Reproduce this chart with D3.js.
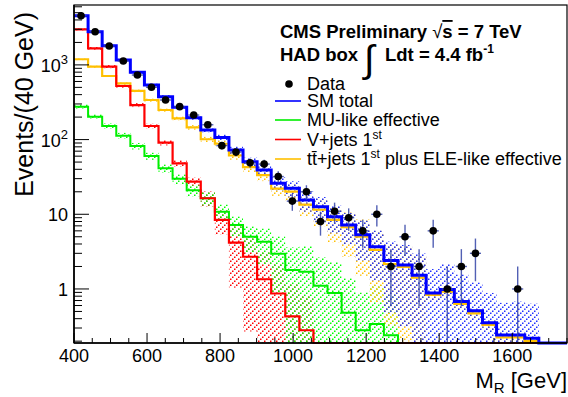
<!DOCTYPE html>
<html><head><meta charset="utf-8">
<script src="https://cdn.jsdelivr.net/npm/d3@7"></script>
<style>
body{margin:0;background:#fff}
text{font-family:"Liberation Sans",Arial,Helvetica,sans-serif;fill:#000}
</style>
</head><body>
<svg id="c" width="568" height="397"></svg>
<script>
// ---- data ----
const mrRange = [400, 1750];          // x axis range, GeV
const nBins = 35;                      // histogram bins over that range
const xMajorTicks = [400, 600, 800, 1000, 1200, 1400, 1600];
const yLabelTicks = [1, 10, 100, 1000];
const yLabelText = ["1", "10", "10^2", "10^3"];

const dataCounts = [4560,2780,1790,1128,732,502,339,276,213,158,83,68,49,47,32,15,20,8,11,9,6,10,2,5,2,6,1,2,3,0,0,1,0,0,0];
const smTotal   = [4560,2780,1807,1164,796,538,375,271,196,134,107,72.6,50.6,39.2,26,22.3,15.5,12.6,9.3,7.2,5.3,3.68,2.4,2.1,1.53,0.88,0.98,0.68,0.51,0.354,0.242,0.242,0.219,0,0];
const muLike    = [276,203,152,113,82,60.3,41.3,29.8,20.9,16.4,10.8,7.2,5.0,4.3,2.97,1.8,1.7,1.1,0.88,0.48,0.28,0.34,0.24,0,0,0,0,0,0,0,0,0,0,0,0];
const vJets     = [2995,1668,946,522,290,152,90.9,48.1,27.3,16.4,8.4,4.17,2.7,1.35,0.87,0.43,0.28,0,0,0,0,0,0,0,0,0,0,0,0,0,0,0,0,0,0];
const ttJets    = [1190,946,710,567,448,339,249,192,146,101,88,61.2,42.9,33.5,22.1,20.1,13.5,11.5,8.4,6.7,5.0,3.34,2.16,1.98,1.42,0.83,0.92,0.63,0.47,0.33,0.225,0.225,0.2,0,0];

// fractional uncertainty bands (hatched)
const smErr  = [0.03,0.03,0.03,0.03,0.04,0.04,0.05,0.05,0.06,0.07,0.09,0.11,0.13,0.16,0.2,0.24,0.3,0.35,0.4,0.45,0.55,0.65,0.8,0.85,0.95,1.1,1.2,1.3,1.4,1.5,1.7,1.8,1.9,0,0];
const muErr  = [0.07,0.07,0.08,0.09,0.1,0.11,0.13,0.15,0.17,0.2,0.25,0.3,0.38,0.5,0.7,1.0,1.2,1.4,1.6,1.9,2.2,2.3,2.5,0,0,0,0,0,0,0,0,0,0,0,0];
const vErr   = [0.04,0.04,0.05,0.05,0.06,0.07,0.08,0.1,0.13,0.23,0.36,0.75,0.9,1.3,1.5,1.7,1.9,0,0,0,0,0,0,0,0,0,0,0,0,0,0,0,0,0,0];
const ttErr  = [0.03,0.03,0.03,0.04,0.04,0.05,0.05,0.06,0.07,0.08,0.1,0.12,0.14,0.17,0.2,0.25,0.3,0.4,0.5,0.6,0.7,0.8,0.85,0.9,0.95,0.15,0.15,0.15,0.15,0.15,0.15,0.15,0.15,0,0];

// ---- layout ----
const svg = d3.select("#c");
const L = 74, R = 567, T = 5, B = 343;
const x = d3.scaleLinear().domain(mrRange).range([L, R]);
const bin = d3.scaleLinear().domain([0, nBins]).range([L, R]);   // bin index -> px
const yMin = 0.189, yMax = 6340;
const y = d3.scaleLog().domain([yMin, yMax]).range([B, T]);
const yc = v => y(Math.max(v, yMin));

// hatch patterns: dotted "/" diagonals
const defs = svg.append("defs");
function hatch(id, col) {
  const p = defs.append("pattern").attr("id", id).attr("patternUnits", "userSpaceOnUse")
    .attr("width", 6).attr("height", 6);
  p.append("g").attr("fill", col).selectAll("rect").data([[0,4.5],[2,2.5],[4,0.5]]).join("rect")
    .attr("x", d => d[0]).attr("y", d => d[1]).attr("width", 1.5).attr("height", 1.5);
}
hatch("hBlue", "#2030ff");
hatch("hGreen", "#00ff00");
hatch("hRed", "#ff0000");
hatch("hYellow", "#ffc000");

const idx = d3.range(nBins);
function band(vals, errs, pat) {
  svg.append("g").selectAll("rect")
    .data(idx.filter(i => vals[i] > 0)).join("rect")
    .attr("x", i => bin(i)).attr("width", i => bin(i + 1) - bin(i))
    .attr("y", i => yc(vals[i] * (1 + errs[i])))
    .attr("height", i => yc(vals[i] * (1 - errs[i])) - yc(vals[i] * (1 + errs[i])))
    .attr("fill", `url(#${pat})`);
}
band(vJets, vErr, "hRed");
band(muLike, muErr, "hGreen");
band(ttJets, ttErr, "hYellow");
band(smTotal, smErr, "hBlue");

function stepLine(vals, col, w) {
  const pts = [];
  idx.forEach(i => { pts.push([bin(i), yc(vals[i])]); pts.push([bin(i + 1), yc(vals[i])]); });
  svg.append("path").attr("d", d3.line()(pts)).attr("fill", "none")
    .attr("stroke", col).attr("stroke-width", w).attr("stroke-linejoin", "miter");
}
stepLine(muLike, "#00ee00", 2);
stepLine(ttJets, "#ffc000", 2.2);
stepLine(vJets, "#ff0000", 2.2);
stepLine(smTotal, "#0000ff", 3);

// data points with errors
const dIdx = idx.filter(i => dataCounts[i] > 0);
const dg = svg.append("g");
const errCol = "#3545a8";
dg.selectAll(".ev").data(dIdx).join("line")
  .attr("x1", i => (bin(i) + bin(i + 1)) / 2).attr("x2", i => (bin(i) + bin(i + 1)) / 2)
  .attr("y1", i => yc(dataCounts[i] + Math.sqrt(dataCounts[i])))
  .attr("y2", i => yc(dataCounts[i] - Math.sqrt(dataCounts[i])))
  .attr("stroke", errCol).attr("stroke-width", 1.4).attr("opacity", 0.85);
dg.selectAll(".eh").data(dIdx).join("line")
  .attr("x1", i => bin(i) + 1.5).attr("x2", i => bin(i + 1) - 1.5)
  .attr("y1", i => yc(dataCounts[i])).attr("y2", i => yc(dataCounts[i]))
  .attr("stroke", errCol).attr("stroke-width", 1.4).attr("opacity", 0.85);
dg.selectAll("circle").data(dIdx).join("circle")
  .attr("cx", i => (bin(i) + bin(i + 1)) / 2).attr("cy", i => yc(dataCounts[i]))
  .attr("r", 3.8).attr("fill", "#000");

// frame
svg.append("rect").attr("x", L).attr("y", T).attr("width", R - L).attr("height", B - T)
  .attr("fill", "none").attr("stroke", "#000").attr("stroke-width", 1.2);
svg.append("line").attr("x1", L).attr("x2", R).attr("y1", B).attr("y2", B).attr("stroke", "#000").attr("stroke-width", 1.6);
svg.append("line").attr("x1", L).attr("x2", L).attr("y1", T).attr("y2", B).attr("stroke", "#000").attr("stroke-width", 1.6);

// x ticks
const xMinor = d3.range(mrRange[0], mrRange[1] + 1, 50);
svg.append("g").selectAll("line").data(xMinor).join("line")
  .attr("x1", d => x(d)).attr("x2", d => x(d)).attr("y1", B)
  .attr("y2", d => B - (xMajorTicks.includes(d) ? 10 : 5)).attr("stroke", "#000").attr("stroke-width", 1);
svg.append("g").selectAll("text").data(xMajorTicks).join("text")
  .attr("x", d => x(d)).attr("y", 362).attr("text-anchor", "middle")
  .attr("font-size", 18).text(d => d);

// y ticks
const yMinorT = y.ticks().filter(v => v >= yMin && v <= yMax);
svg.append("g").selectAll("line").data(yMinorT).join("line")
  .attr("y1", d => y(d)).attr("y2", d => y(d)).attr("x1", L)
  .attr("x2", d => L + (yLabelTicks.includes(d) ? 15 : 8)).attr("stroke", "#000").attr("stroke-width", 1);
const yl = svg.append("g").selectAll("text").data(yLabelTicks).join("text")
  .attr("x", 68).attr("y", d => y(d) + 7).attr("text-anchor", "end").attr("font-size", 18);
yl.each(function(d, i) {
  const s = yLabelText[i].split("^");
  const t = d3.select(this);
  t.append("tspan").text(s[0]);
  if (s[1]) t.append("tspan").attr("dy", -8).attr("font-size", 13).text(s[1]);
});

// axis titles
const xt = svg.append("text").attr("x", R).attr("y", 388).attr("text-anchor", "end").attr("font-size", 22);
xt.append("tspan").text("M");
xt.append("tspan").attr("dy", 5).attr("font-size", 15).text("R");
xt.append("tspan").attr("dy", -5).text(" [GeV]");
svg.append("text").attr("transform", "translate(33,12) rotate(-90)").attr("text-anchor", "end")
  .attr("font-size", 25).text("Events/(40 GeV)");

// header text
const h1 = svg.append("text").attr("x", 280).attr("y", 38).attr("font-size", 18.5).attr("font-weight", "bold");
h1.append("tspan").text("CMS Preliminary ");
h1.append("tspan").attr("font-weight", "normal").text("\u221A");
h1.append("tspan").attr("style", "text-decoration:overline").text("s");
h1.append("tspan").text(" = 7 TeV");
svg.append("text").attr("x", 280).attr("y", 61).attr("font-size", 18.5).attr("font-weight", "bold").text("HAD box");
svg.append("text").attr("x", 364).attr("y", 72).attr("font-size", 38).attr("font-family", "DejaVu Sans").text("\u222B");
const h2 = svg.append("text").attr("x", 385).attr("y", 61).attr("font-size", 18.5).attr("font-weight", "bold");
h2.append("tspan").text("Ldt = 4.4 fb");
h2.append("tspan").attr("dy", -8).attr("font-size", 12).text("-1");

// legend
const lg = svg.append("g");
lg.append("circle").attr("cx", 289).attr("cy", 84).attr("r", 3.8).attr("fill", "#000");
lg.append("text").attr("x", 307).attr("y", 90).attr("font-size", 18).text("Data");
const legRows = [
  {c: "#0000ff", y: 101, t: [["SM total"]]},
  {c: "#00ee00", y: 120, t: [["MU-like effective"]]},
  {c: "#ff0000", y: 139.5, t: [["V+jets 1"], ["st", 1]]},
  {c: "#ffc000", y: 159, t: [["tt\u0304+jets 1"], ["st", 1], [" plus ELE-like effective"]]}
];
legRows.forEach(r => {
  lg.append("line").attr("x1", 275).attr("x2", 301).attr("y1", r.y).attr("y2", r.y)
    .attr("stroke", r.c).attr("stroke-width", 1.6);
  const t = lg.append("text").attr("x", 307).attr("y", r.y + 6).attr("font-size", 18);
  let up = false;
  r.t.forEach(p => {
    const ts = t.append("tspan").text(p[0]);
    if (p[1]) { ts.attr("dy", -7).attr("font-size", 12); up = true; }
    else if (up) { ts.attr("dy", 7); up = false; }
  });
});
</script>
</body></html>
